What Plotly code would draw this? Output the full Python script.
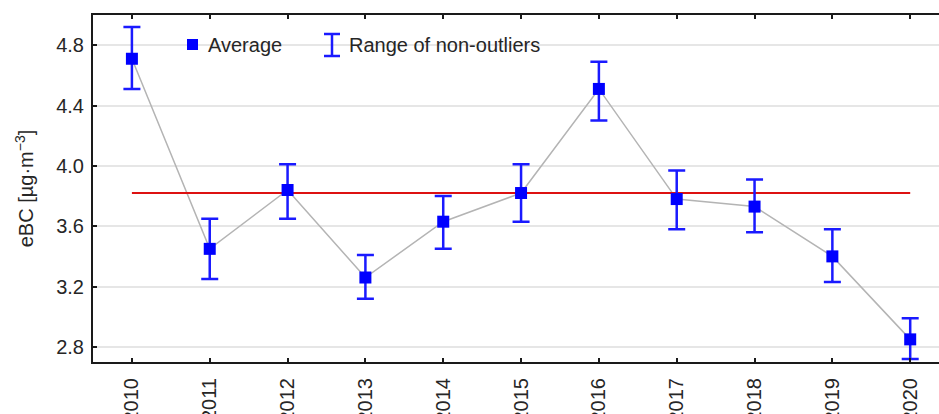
import plotly.graph_objects as go

years = [2010, 2011, 2012, 2013, 2014, 2015, 2016, 2017, 2018, 2019, 2020]
average = [4.71, 3.45, 3.84, 3.26, 3.63, 3.82, 4.51, 3.78, 3.73, 3.40, 2.85]
upper = [4.92, 3.65, 4.01, 3.41, 3.80, 4.01, 4.69, 3.97, 3.91, 3.58, 2.99]
lower = [4.51, 3.25, 3.65, 3.12, 3.45, 3.63, 4.30, 3.58, 3.56, 3.23, 2.72]
overall_mean = 3.82
y_ticks = [2.8, 3.2, 3.6, 4.0, 4.4, 4.8]

W, H = 939, 414
ML, MR, MT, MB = 93, 0, 15, 52
PW, PH = W - ML - MR, H - MT - MB

BLUE = "#0000ff"
EBLUE = "#1a1aff"
TXT = "#262626"
FONT = "Liberation Sans, Arial, sans-serif"

def px(x):
    return (x - ML) / PW

def py(y):
    return (H - MB - y) / PH

err_plus = [u - a for u, a in zip(upper, average)]
err_minus = [a - l for a, l in zip(average, lower)]

fig = go.Figure()

fig.add_trace(go.Scatter(
    x=years, y=average, mode="lines",
    line=dict(color="#b4b4b4", width=1.5),
    showlegend=False, hoverinfo="skip"))

fig.add_trace(go.Scatter(
    x=[years[0], years[-1]], y=[overall_mean, overall_mean], mode="lines",
    line=dict(color="#dd1111", width=2),
    showlegend=False, hoverinfo="skip"))

fig.add_trace(go.Scatter(
    x=years, y=average, mode="markers",
    marker=dict(symbol="square", size=12, color=BLUE),
    error_y=dict(type="data", symmetric=False, array=err_plus,
                 arrayminus=err_minus, color=EBLUE, thickness=2.5, width=8.5),
    showlegend=False))

shapes = [
    dict(type="rect", xref="paper", yref="paper",
         x0=px(187), x1=px(198), y0=py(50), y1=py(39),
         fillcolor=BLUE, line=dict(width=0)),
    dict(type="line", xref="paper", yref="paper",
         x0=px(332), x1=px(332), y0=py(34), y1=py(56),
         line=dict(color=EBLUE, width=2.5)),
    dict(type="line", xref="paper", yref="paper",
         x0=px(324), x1=px(340), y0=py(34), y1=py(34),
         line=dict(color=EBLUE, width=2.5)),
    dict(type="line", xref="paper", yref="paper",
         x0=px(324), x1=px(340), y0=py(56), y1=py(56),
         line=dict(color=EBLUE, width=2.5)),
]
annotations = [
    dict(text="Average", xref="paper", yref="paper", x=px(206), y=py(45),
         xanchor="left", yanchor="middle", showarrow=False,
         font=dict(family=FONT, size=20, color=TXT)),
    dict(text="Range of non-outliers", xref="paper", yref="paper", x=px(347), y=py(45),
         xanchor="left", yanchor="middle", showarrow=False,
         font=dict(family=FONT, size=20, color=TXT)),
]

fig.update_layout(
    width=W, height=H,
    margin=dict(l=ML, r=MR, t=MT, b=MB, pad=0),
    paper_bgcolor="white", plot_bgcolor="white",
    font=dict(family=FONT, color=TXT, size=20),
    shapes=shapes, annotations=annotations,
    xaxis=dict(
        range=[2009.5, 2020.37], tickmode="array", tickvals=years,
        ticktext=[str(y) for y in years], tickangle=-90,
        showgrid=False, zeroline=False, automargin=False,
        showline=True, linecolor="#1a1a1a", linewidth=2, mirror="ticks",
        ticks="inside", ticklen=4, tickwidth=2, tickcolor="#1a1a1a",
        tickfont=dict(size=20, color=TXT), ticklabelstandoff=6,
    ),
    yaxis=dict(
        range=[2.7, 5.0], tickmode="array", tickvals=y_ticks,
        ticktext=[f"{v:.1f}" for v in y_ticks],
        showgrid=True, gridcolor="#e6e6e6", gridwidth=2, zeroline=False,
        automargin=False,
        showline=True, linecolor="#1a1a1a", linewidth=2,
        ticks="inside", ticklen=4, tickwidth=2, tickcolor="#1a1a1a",
        tickfont=dict(size=20, color=TXT), ticklabelstandoff=3,
        title=dict(text="eBC [µg·m<sup>−3</sup>]", standoff=17,
                   font=dict(size=20, color=TXT)),
    ),
)

fig.write_html("out.html", config={"displayModeBar": False})
with open("out.html", "r", encoding="utf-8") as f:
    html = f.read()
html = html.replace("<head>", "<head><style>html,body{margin:0;padding:0;overflow:hidden;}</style>", 1)
with open("out.html", "w", encoding="utf-8") as f:
    f.write(html)
